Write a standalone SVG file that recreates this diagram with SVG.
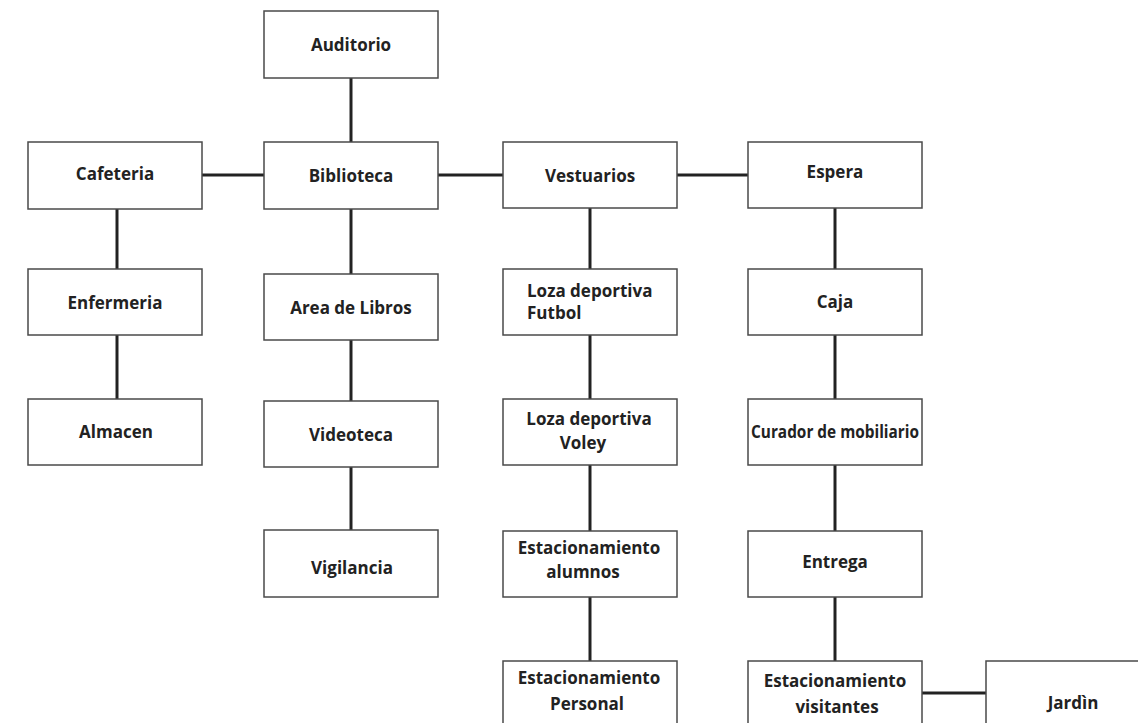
<svg xmlns="http://www.w3.org/2000/svg" width="1138" height="723" viewBox="0 0 1138 723">
<style>
.box{fill:#fff;stroke:#4a4a4a;stroke-width:1.5}
.t{font-family:"Open Sans","DejaVu Sans",sans-serif;font-weight:bold;font-size:17px;fill:#222;text-anchor:middle}
.l{text-anchor:start}
.c{stroke:#222;stroke-width:3;fill:none}
</style>
<rect width="1138" height="723" fill="#fff"/>
<g id="connectors">
<line class="c" x1="351" y1="78" x2="351" y2="142"/>
<line class="c" x1="202" y1="175" x2="264" y2="175"/>
<line class="c" x1="438" y1="175" x2="503" y2="175"/>
<line class="c" x1="677" y1="175" x2="748" y2="175"/>
<line class="c" x1="117" y1="209" x2="117" y2="269"/>
<line class="c" x1="117" y1="335" x2="117" y2="399"/>
<line class="c" x1="351" y1="209" x2="351" y2="274"/>
<line class="c" x1="351" y1="340" x2="351" y2="401"/>
<line class="c" x1="351" y1="467" x2="351" y2="530"/>
<line class="c" x1="590" y1="208" x2="590" y2="269"/>
<line class="c" x1="590" y1="335" x2="590" y2="399"/>
<line class="c" x1="590" y1="465" x2="590" y2="531"/>
<line class="c" x1="590" y1="597" x2="590" y2="661"/>
<line class="c" x1="835" y1="208" x2="835" y2="269"/>
<line class="c" x1="835" y1="335" x2="835" y2="399"/>
<line class="c" x1="835" y1="465" x2="835" y2="531"/>
<line class="c" x1="835" y1="597" x2="835" y2="661"/>
<line class="c" x1="922" y1="693" x2="986" y2="693"/>
</g>
<g id="auditorio"><rect class="box" x="264" y="11" width="174" height="67"/><text class="t" x="351" y="51">Auditorio</text></g>
<g id="cafeteria"><rect class="box" x="28" y="142" width="174" height="67"/><text class="t" x="115" y="180">Cafeteria</text></g>
<g id="biblioteca"><rect class="box" x="264" y="142" width="174" height="67"/><text class="t" x="351" y="182">Biblioteca</text></g>
<g id="vestuarios"><rect class="box" x="503" y="142" width="174" height="66"/><text class="t" x="590" y="182">Vestuarios</text></g>
<g id="espera"><rect class="box" x="748" y="142" width="174" height="66"/><text class="t" x="835" y="178">Espera</text></g>
<g id="enfermeria"><rect class="box" x="28" y="269" width="174" height="66"/><text class="t" x="115" y="309">Enfermeria</text></g>
<g id="area-libros"><rect class="box" x="264" y="274" width="174" height="66"/><text class="t" x="351" y="314">Area de Libros</text></g>
<g id="loza-futbol"><rect class="box" x="503" y="269" width="174" height="66"/><text class="t l" x="527" y="297">Loza deportiva</text><text class="t l" x="527" y="319">Futbol</text></g>
<g id="caja"><rect class="box" x="748" y="269" width="174" height="66"/><text class="t" x="835" y="308">Caja</text></g>
<g id="almacen"><rect class="box" x="28" y="399" width="174" height="66"/><text class="t" x="116" y="438">Almacen</text></g>
<g id="videoteca"><rect class="box" x="264" y="401" width="174" height="66"/><text class="t" x="351" y="441">Videoteca</text></g>
<g id="loza-voley"><rect class="box" x="503" y="399" width="174" height="66"/><text class="t" x="589" y="425">Loza deportiva</text><text class="t" x="583" y="449">Voley</text></g>
<g id="curador"><rect class="box" x="748" y="399" width="174" height="66"/><text class="t" x="835" y="438" textLength="168" lengthAdjust="spacingAndGlyphs">Curador de mobiliario</text></g>
<g id="vigilancia"><rect class="box" x="264" y="530" width="174" height="67"/><text class="t" x="352" y="574">Vigilancia</text></g>
<g id="est-alumnos"><rect class="box" x="503" y="531" width="174" height="66"/><text class="t" x="589" y="554">Estacionamiento</text><text class="t" x="583" y="578">alumnos</text></g>
<g id="entrega"><rect class="box" x="748" y="531" width="174" height="66"/><text class="t" x="835" y="568">Entrega</text></g>
<g id="est-personal"><rect class="box" x="503" y="661" width="174" height="80"/><text class="t" x="589" y="684">Estacionamiento</text><text class="t" x="587" y="710">Personal</text></g>
<g id="est-visitantes"><rect class="box" x="748" y="661" width="174" height="80"/><text class="t" x="835" y="687">Estacionamiento</text><text class="t" x="837" y="713">visitantes</text></g>
<g id="jardin"><rect class="box" x="986" y="661" width="200" height="100"/><text class="t" x="1073" y="709">Jardìn</text></g>
</svg>
